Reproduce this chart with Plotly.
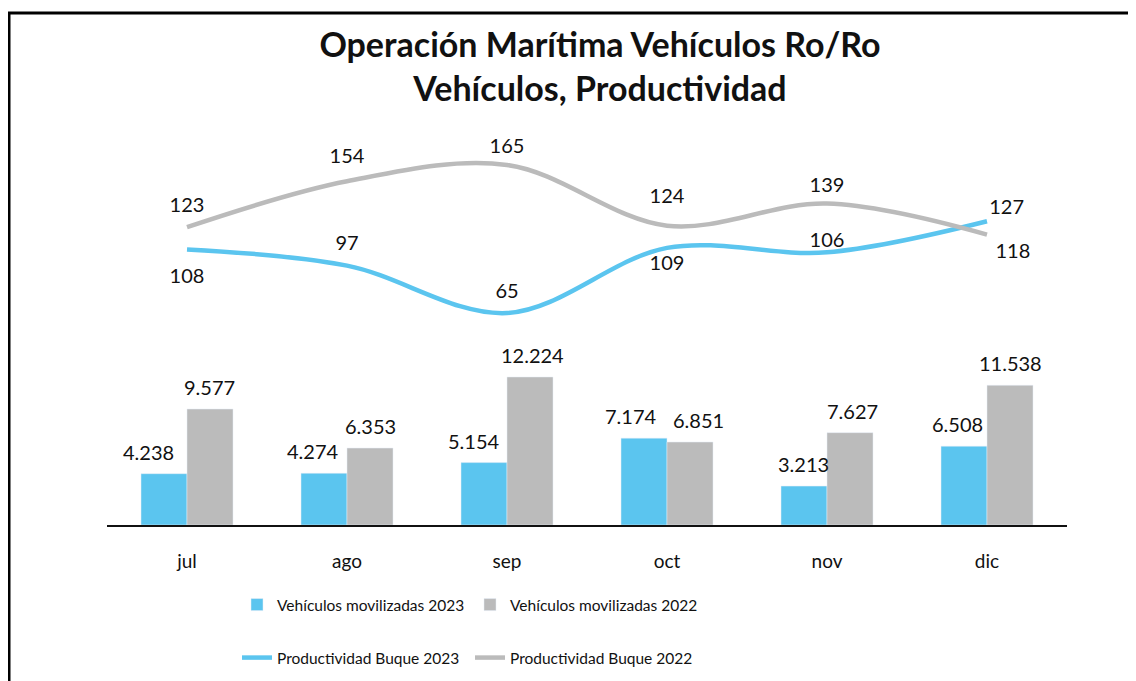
import plotly.graph_objects as go

# data
months = ['jul', 'ago', 'sep', 'oct', 'nov', 'dic']
veh_2023 = [4238, 4274, 5154, 7174, 3213, 6508]
veh_2022 = [9577, 6353, 12224, 6851, 7627, 11538]
prod_2023 = [108, 97, 65, 109, 106, 127]
prod_2022 = [123, 154, 165, 124, 139, 118]

# label placement (style only)
pos_2023 = ['bottom center', 'top center', 'top center', 'bottom center', 'top center', 'top right']
pos_2022 = ['top center', 'top center', 'top center', 'top center', 'top center', 'bottom right']
gap_2023 = [28, 16, 14, 10, 0, 2]
gap_2022 = [14, 20, 10, 26, 9, 12]
# horizontal nudge of bar labels in px, like Excel avoids overlaps
nudge_2023 = [-16, -11, -10, -13, -1, -7]
nudge_2022 = [-1, 0, 2, 8, 2, 0]

BLUE = '#5BC5EF'
GREY = '#BBBBBB'
FONT = 'Lato, Carlito, sans-serif'
CLEAR = 'rgba(0,0,0,0)'
HALF_BAR = 23  # px from category centre to each bar's centre


def fmt(v):
    return f'{v:,}'.replace(',', '.')


fig = go.Figure()

fig.add_trace(go.Bar(x=months, y=veh_2023, name='Vehículos movilizadas 2023',
                     marker_color=BLUE, legend='legend'))
fig.add_trace(go.Bar(x=months, y=veh_2022, name='Vehículos movilizadas 2022',
                     marker_color=GREY, legend='legend'))

# invisible markers only push the value labels away from the line
fig.add_trace(go.Scatter(
    x=months, y=prod_2023, name='Productividad Buque 2023', yaxis='y2',
    mode='lines+markers+text', line=dict(color=BLUE, width=4.5, shape='spline'),
    marker=dict(size=gap_2023, color=CLEAR, line=dict(width=0)),
    text=[str(v) for v in prod_2023], textposition=pos_2023,
    textfont=dict(size=20, color='#111'), cliponaxis=False, legend='legend2'
))
fig.add_trace(go.Scatter(
    x=months, y=prod_2022, name='Productividad Buque 2022', yaxis='y2',
    mode='lines+markers+text', line=dict(color=GREY, width=4.5, shape='spline'),
    marker=dict(size=gap_2022, color=CLEAR, line=dict(width=0)),
    text=[str(v) for v in prod_2022], textposition=pos_2022,
    textfont=dict(size=20, color='#111'), cliponaxis=False, legend='legend2'
))

# bar value labels
for vals, nudges, side in [(veh_2023, nudge_2023, -1), (veh_2022, nudge_2022, 1)]:
    for m, v, n in zip(months, vals, nudges):
        fig.add_annotation(x=m, y=v, xref='x', yref='y', text=fmt(v),
                           showarrow=False, yanchor='bottom', xanchor='center',
                           xshift=side * HALF_BAR + n, yshift=8,
                           font=dict(size=20, color='#111'))

# the page body adds an 8px margin, so work in page px minus 8
OFF = 8
W, H = 1128, 673
L, R, T, B = 107 - OFF, W - (1067 - OFF), 120 - OFF, H - (525 - OFF)
pw, ph = W - L - R, H - T - B


def py(page_y):
    # page y (px) -> paper y
    return (H - B - (page_y - OFF)) / ph


def px(page_x):
    return (page_x - OFF - L) / pw


fig.update_layout(
    width=W, height=H,
    margin=dict(l=L, r=R, t=T, b=B, autoexpand=False),
    paper_bgcolor='white', plot_bgcolor='white',
    font=dict(family=FONT, size=19, color='#111'),
    title=dict(
        text='<b>Operación Marítima Vehículos Ro/Ro<br>Vehículos, Productividad</b>',
        x=(600 - OFF) / W, xanchor='center', y=1 - 49 / H, yanchor='top',
        font=dict(family=FONT, size=34, color='#111')
    ),
    barmode='group', bargap=0.425, bargroupgap=0,
    xaxis=dict(showline=True, linecolor='#111', linewidth=1.5, ticks='',
               showgrid=False, tickfont=dict(size=19), ticklabelstandoff=18),
    yaxis=dict(range=[0, 33450], visible=False, showgrid=False),
    yaxis2=dict(range=[-78.2, 195.4], overlaying='y', visible=False, showgrid=False),
    legend=dict(orientation='h', x=px(237), xanchor='left',
                y=py(605), yanchor='middle',
                font=dict(size=15.5), entrywidth=188, bgcolor=CLEAR),
    legend2=dict(orientation='h', x=px(237), xanchor='left',
                 y=py(658), yanchor='middle',
                 font=dict(size=15.5), entrywidth=188, bgcolor=CLEAR),
    shapes=[dict(type='rect', xref='paper', yref='paper',
                 x0=px(9), x1=px(1150),
                 y0=py(700), y1=py(13),
                 line=dict(color='black', width=3))],
)

fig.write_html('out.html')
